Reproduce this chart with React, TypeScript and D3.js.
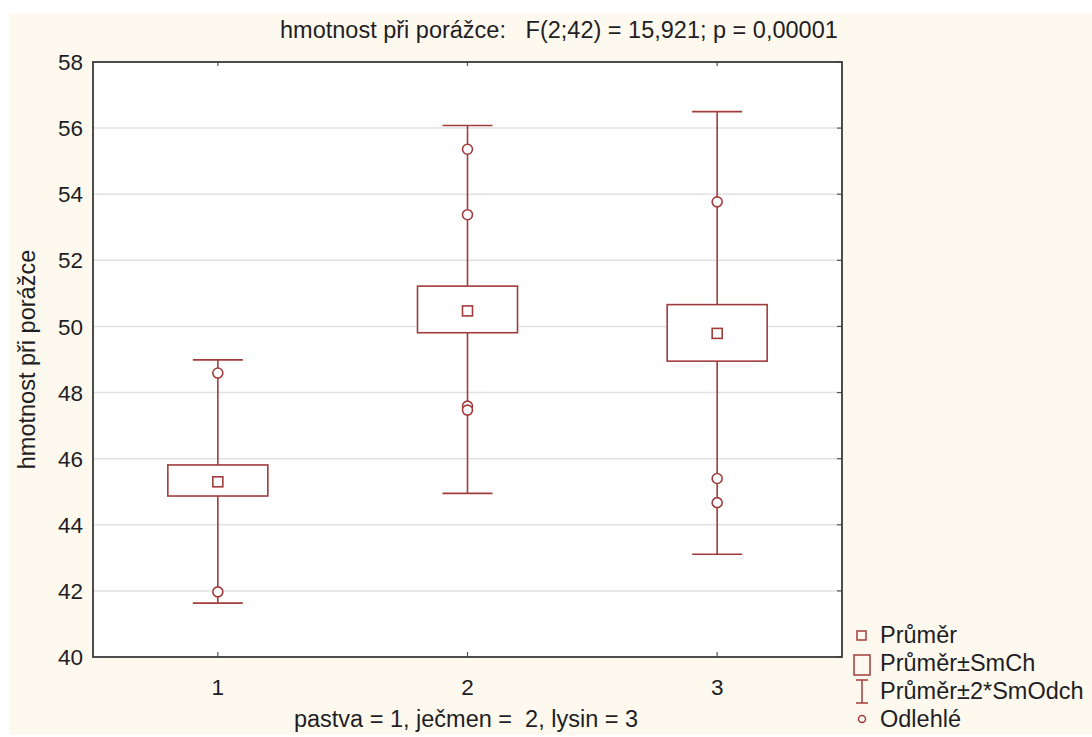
import React from "react";
import * as d3 from "d3";

// data
const groups = ["1", "2", "3"];
const means = [45.3, 50.47, 49.79];
const seLow = [44.87, 49.81, 48.95];
const seHigh = [45.81, 51.22, 50.66];
const sdLow = [41.63, 44.95, 43.11];
const sdHigh = [48.99, 56.08, 56.5];
const outliers = [
  [48.59, 41.97],
  [55.36, 53.38, 47.59, 47.47],
  [53.77, 45.4, 44.67],
];
const yTicks = [40, 42, 44, 46, 48, 50, 52, 54, 56, 58];

const title = "hmotnost při porážce:   F(2;42) = 15,921; p = 0,00001";
const yLabel = "hmotnost při porážce";
const xLabel = "pastva = 1, ječmen =  2, lysin = 3";
const legendLabels = ["Průměr", "Průměr±SmCh", "Průměr±2*SmOdch", "Odlehlé"];

const RED = "#a23c3c";
const FONT = "'Liberation Sans', Arial, sans-serif";
const TXT = "#1e1e24";
const LBL = 23.5;

export default function App() {
  const left = 93, right = 842, top = 62, bottom = 657;
  const x = d3.scaleBand<string>().domain(groups).range([left, right]);
  const y = d3.scaleLinear().domain([40, 58]).range([bottom, top]);
  const cx = (g: string) => (x(g) as number) + x.bandwidth() / 2;

  const boxW = 100, capW = 50, meanS = 10, r = 5;

  return (
    <svg width={1092} height={737} style={{ position: "absolute", left: 0, top: 0 }}>
      <rect x={0} y={0} width={1092} height={737} fill="#fff" />
      <rect x={9} y={13} width={1083} height={722} fill="#fef9ef" />
      <rect x={left} y={top} width={right - left} height={bottom - top} fill="#fff" />

      {/* grid */}
      {yTicks.slice(1, -1).map(t => (
        <line key={"g" + t} x1={left} x2={right} y1={y(t)} y2={y(t)} stroke="#e2e2e2" strokeWidth={1.5} />
      ))}

      {/* ticks */}
      {yTicks.map(t => (
        <g key={"t" + t}>
          <line x1={right - 5} x2={right} y1={y(t)} y2={y(t)} stroke="#555" strokeWidth={1.2} />
          <text x={left - 10} y={y(t)} dy="0.36em" textAnchor="end" fontSize={22.5} fontFamily={FONT} fill={TXT}>{t}</text>
        </g>
      ))}
      {groups.map(g => (
        <g key={"xt" + g}>
          <line x1={cx(g)} x2={cx(g)} y1={bottom} y2={bottom - 5} stroke="#555" strokeWidth={1.2} />
          <line x1={cx(g)} x2={cx(g)} y1={top} y2={top + 4} stroke="#555" strokeWidth={1.2} />
          <text x={cx(g)} y={bottom + 38} textAnchor="middle" fontSize={22.5} fontFamily={FONT} fill={TXT}>{g}</text>
        </g>
      ))}

      {/* boxes */}
      {groups.map((g, i) => {
        const c = cx(g);
        return (
          <g key={"b" + g} stroke={RED} strokeWidth={1.6} fill="none">
            <line x1={c} x2={c} y1={y(sdHigh[i])} y2={y(seHigh[i])} />
            <line x1={c} x2={c} y1={y(seLow[i])} y2={y(sdLow[i])} />
            <line x1={c - capW / 2} x2={c + capW / 2} y1={y(sdHigh[i])} y2={y(sdHigh[i])} />
            <line x1={c - capW / 2} x2={c + capW / 2} y1={y(sdLow[i])} y2={y(sdLow[i])} />
            <rect x={c - boxW / 2} y={y(seHigh[i])} width={boxW} height={y(seLow[i]) - y(seHigh[i])} fill="#fff" />
            <rect x={c - meanS / 2} y={y(means[i]) - meanS / 2} width={meanS} height={meanS} />
            {outliers[i].map((v, j) => (
              <circle key={j} cx={c} cy={y(v)} r={r} fill="#fff" />
            ))}
          </g>
        );
      })}

      {/* frame */}
      <rect x={left} y={top} width={right - left} height={bottom - top} fill="none" stroke="#3a3a3a" strokeWidth={1.8} />

      {/* labels */}
      <text x={280} y={38} fontSize={LBL} fontFamily={FONT} fill={TXT} style={{ whiteSpace: "pre" }}>{title}</text>
      <text transform={`translate(35,${(top + bottom) / 2}) rotate(-90)`} textAnchor="middle" fontSize={LBL} fontFamily={FONT} fill={TXT}>{yLabel}</text>
      <text x={466} y={727} textAnchor="middle" fontSize={LBL} fontFamily={FONT} fill={TXT} style={{ whiteSpace: "pre" }}>{xLabel}</text>

      {/* legend */}
      <g stroke={RED} strokeWidth={1.5} fill="none">
        <rect x={857} y={631} width={9} height={9} />
        <rect x={854} y={655} width={16} height={20} />
        <line x1={862} x2={862} y1={680} y2={703} />
        <line x1={856} x2={868} y1={680} y2={680} />
        <line x1={856} x2={868} y1={703} y2={703} />
        <circle cx={862} cy={719} r={3.5} />
      </g>
      {legendLabels.map((l, i) => (
        <text key={l} x={880} y={643 + i * 28} fontSize={LBL} fontFamily={FONT} fill={TXT}>{l}</text>
      ))}
    </svg>
  );
}
